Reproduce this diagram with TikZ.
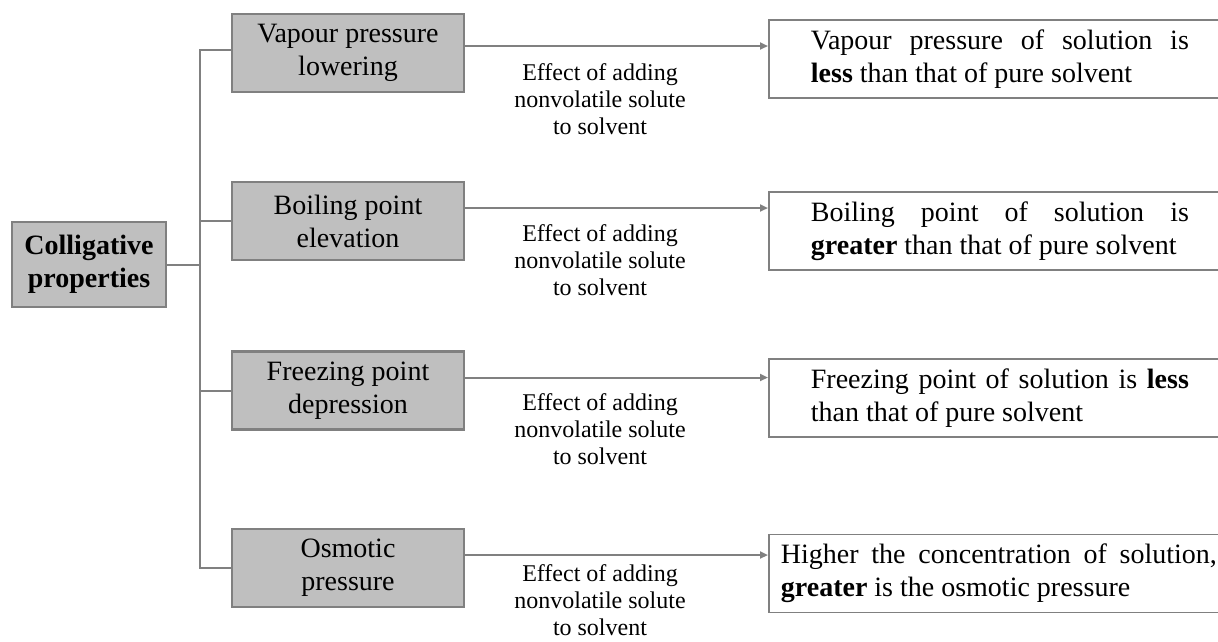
\documentclass[tikz,border=0pt]{standalone}
\usepackage{fontspec}
\setmainfont{Liberation Serif}
\usetikzlibrary{arrows.meta}
\tolerance=10000
\hbadness=10000
\hyphenpenalty=10000

\begin{document}
\begin{tikzpicture}[x=1pt, y=-1pt, >={Triangle[length=8pt,width=7pt]}]
    \tikzset{prop/.style={draw=gray, line width=2.2pt, fill=gray!50, inner sep=0pt,
        minimum width=232pt, minimum height=78pt, align=center,
        font=\fontsize{28}{33}\selectfont}}
    \tikzset{result/.style={draw=gray, line width=1.8pt, anchor=west, minimum height=78pt,
        inner ysep=0pt, align=justify, font=\fontsize{28}{33}\selectfont}}
    \tikzset{effect/.style={align=center, inner sep=0pt, font=\fontsize{24}{27}\selectfont}}
    \tikzset{link/.style={draw=gray, line width=2pt}}
    \useasboundingbox (0,0) rectangle (1218,641);
    \clip (0,0) rectangle (1218,641);
    % root and the four properties
    \node[prop, minimum width=154pt, minimum height=85pt,
        font=\bfseries\fontsize{28}{33}\selectfont] (coll) at (89,264.5) {Colligative\\properties};
    \node[prop] (vpl) at (348,53) {Vapour pressure\\lowering};
    \node[prop] (bpe) at (348,221) {Boiling point\\elevation};
    \node[prop] (fpd) at (348,390.5) {Freezing point\\depression};
    \node[prop] (osm) at (348,568) {Osmotic\\pressure};
    % what each one means
    \node[result, text width=378pt, inner xsep=42pt] (vplres) at (768,59)
        {Vapour pressure of solution is\linebreak \textbf{less} than that of pure solvent};
    \node[result, text width=378pt, inner xsep=42pt] (bperes) at (768,231)
        {Boiling point of solution is\linebreak \textbf{greater} than that of pure solvent};
    \node[result, text width=378pt, inner xsep=42pt] (fpdres) at (768,398)
        {Freezing point of solution is \textbf{less}\linebreak than that of pure solvent};
    \node[result, text width=436pt, inner xsep=12pt] (osmres) at (768,573.5)
        {Higher the concentration of solution,\linebreak \textbf{greater} is the osmotic pressure};
    \node[effect] (vpleff) at (600,99) {Effect of adding\\nonvolatile solute\\to solvent};
    \node[effect] (bpeeff) at (600,260) {Effect of adding\\nonvolatile solute\\to solvent};
    \node[effect] (fpdeff) at (600,429) {Effect of adding\\nonvolatile solute\\to solvent};
    \node[effect] (osmeff) at (600,600) {Effect of adding\\nonvolatile solute\\to solvent};
    % tree lines
    \coordinate (trunk) at (200,264.5);
    \draw[link] (coll.east) -- (trunk);
    \draw[link] ([yshift=3pt]vpl.west) -| (trunk) |- (osm.west);
    \draw[link] (trunk |- bpe.west) -- (bpe.west);
    \draw[link] (trunk |- fpd.west) -- (fpd.west);
    % arrows to the results
    \draw[link, ->] ([yshift=7pt]vpl.east) -- ([yshift=7pt]vpl.east -| vplres.west);
    \draw[link, ->] ([yshift=13pt]bpe.east) -- ([yshift=13pt]bpe.east -| bperes.west);
    \draw[link, ->] ([yshift=13pt]fpd.east) -- ([yshift=13pt]fpd.east -| fpdres.west);
    \draw[link, ->] ([yshift=13pt]osm.east) -- ([yshift=13pt]osm.east -| osmres.west);
\end{tikzpicture}
\end{document}
